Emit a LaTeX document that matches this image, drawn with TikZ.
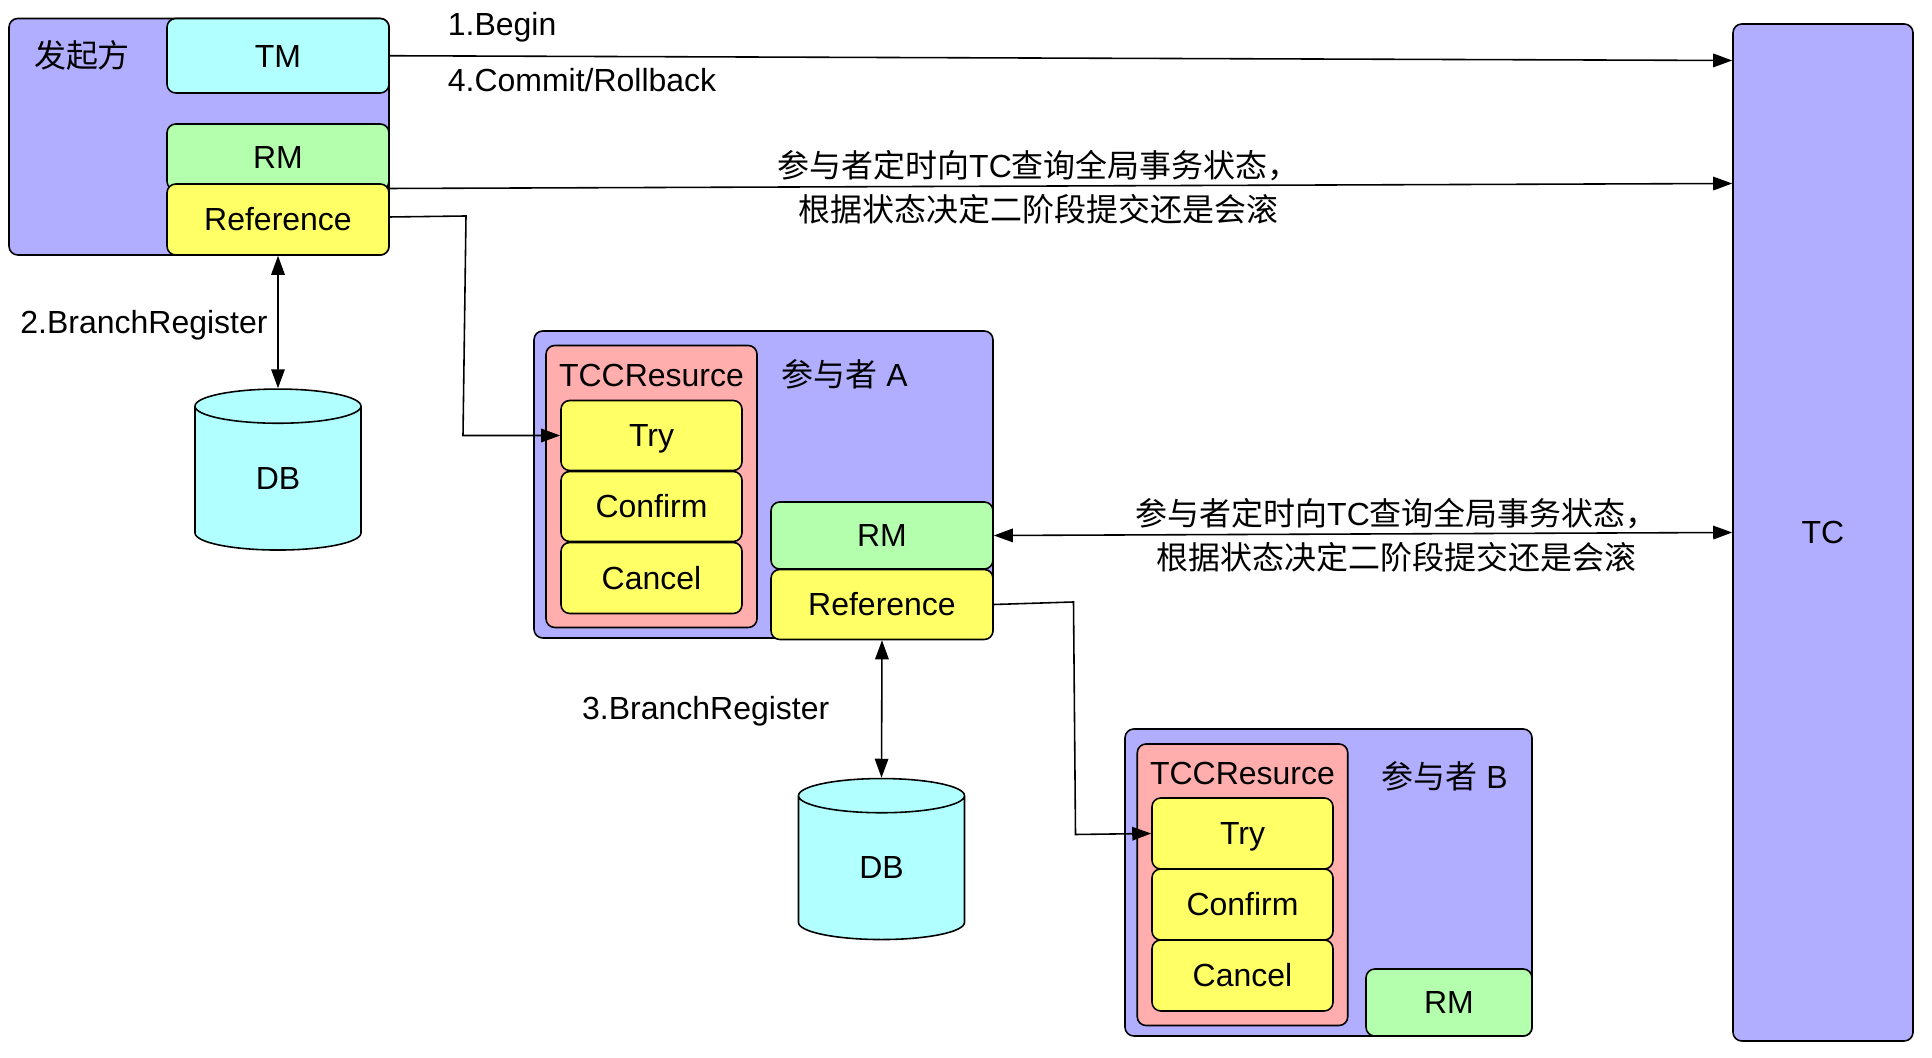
\documentclass[tikz,border=0pt]{standalone}
\usepackage{fontspec}
\setmainfont{Liberation Sans}
\newfontfamily\cjk{Noto Sans CJK SC}
\usetikzlibrary{arrows.meta,shapes.geometric}
\definecolor{lilac}{RGB}{177,173,255}
\definecolor{aqua}{RGB}{177,255,255}
\definecolor{mint}{RGB}{179,255,173}
\definecolor{lemon}{RGB}{255,255,102}
\definecolor{rose}{RGB}{255,173,173}
\tikzset{
  >={Triangle[length=3.8mm,width=2.7mm]},
  box/.style={draw=black,fill=#1,line width=0.9pt,rounded corners=5pt,inner sep=0pt,
    font=\fontsize{18.2}{22}\selectfont,text height=13pt,text depth=0pt},
  box/.default=lemon,
  db/.style={draw=black,fill=aqua,line width=0.9pt,cylinder,shape border rotate=90,
    shape aspect=0.77,minimum width=3.32cm,minimum height=3.22cm,inner sep=0pt,
    font=\fontsize{18.2}{22}\selectfont},
  tag/.style={font=\fontsize{18.2}{22}\selectfont,inner sep=0pt,text height=13pt,text depth=0pt},
  note/.style={font=\fontsize{18.2}{25}\selectfont,align=center,inner sep=0pt},
  flow/.style={line width=0.9pt,draw=black},
}
\begin{document}
\begin{tikzpicture}
    \useasboundingbox (0,0) rectangle (38.64,21.16);
    % initiator
    \node[box=lilac,minimum width=76mm,minimum height=47.3mm] (init) at (3.98,18.425) {};
    \node[tag] (inittag) at (1.64,20.04) {\cjk 发起方};
    \node[box=aqua,minimum width=44.4mm,minimum height=14.9mm] (tm) at (5.56,20.045) {TM};
    \node[box=mint,minimum width=44.4mm,minimum height=13.2mm] (rm) at (5.56,18.02) {RM};
    \node[box,minimum width=44.4mm,minimum height=14.2mm] (ref) at (5.56,16.77) {Reference};
    \node[db] (dba) at (5.56,11.59) {DB};
    % participant A
    \node[box=lilac,minimum width=91.8mm,minimum height=61.4mm] (pa) at (15.27,11.47) {};
    \node[box=rose,minimum width=42.2mm,minimum height=56.4mm] (tcca) at (13.03,11.43) {};
    \node[tag] (tccatag) at (13.03,13.66) {TCCResurce};
    \node[tag] (patag) at (16.89,13.66) {{\cjk 参与者} A};
    \node[box,minimum width=36.2mm,minimum height=14mm] (trya) at (13.03,12.45) {Try};
    \node[box,minimum width=36.2mm,minimum height=14mm] (confirma) at (13.03,11.03) {Confirm};
    \node[box,minimum width=36.2mm,minimum height=14.2mm] (cancela) at (13.03,9.6) {Cancel};
    \node[box=mint,minimum width=44.4mm,minimum height=13.4mm] (rma) at (17.64,10.45) {RM};
    \node[box,minimum width=44.4mm,minimum height=14mm] (refa) at (17.64,9.07) {Reference};
    \node[db] (dbb) at (17.63,3.8) {DB};
    % participant B
    \node[box=lilac,minimum width=81.4mm,minimum height=61.4mm] (pb) at (26.57,3.51) {};
    \node[box=rose,minimum width=42.1mm,minimum height=56.3mm] (tccb) at (24.85,3.465) {};
    \node[tag] (tccbtag) at (24.85,5.69) {TCCResurce};
    \node[tag] (pbtag) at (28.89,5.62) {{\cjk 参与者} B};
    \node[box,minimum width=36.2mm,minimum height=14.2mm] (tryb) at (24.85,4.49) {Try};
    \node[box,minimum width=36.2mm,minimum height=14.2mm] (confirmb) at (24.85,3.07) {Confirm};
    \node[box,minimum width=36.2mm,minimum height=14.2mm] (cancelb) at (24.85,1.65) {Cancel};
    \node[box=mint,minimum width=33.2mm,minimum height=13.4mm] (rmb) at (28.98,1.11) {RM};
    % coordinator
    \node[box=lilac,minimum width=36mm,minimum height=203.4mm] (tc) at (36.46,10.51) {TC};
    % labels
    \node[tag,anchor=west] (begin) at (8.95,20.68) {1.Begin};
    \node[tag,anchor=west] (commit) at (8.95,19.55) {4.Commit/Rollback};
    \node[note] (querya) at (20.77,17.42) {{\cjk 参与者定时向}TC{\cjk 查询全局事务状态，}\\{\cjk 根据状态决定二阶段提交还是会滚}};
    \node[note] (queryb) at (27.93,10.46) {{\cjk 参与者定时向}TC{\cjk 查询全局事务状态，}\\{\cjk 根据状态决定二阶段提交还是会滚}};
    \node[tag] (brancha) at (2.88,14.72) {2.BranchRegister};
    \node[tag] (branchb) at (14.115,7.0) {3.BranchRegister};
    % connectors
    \coordinate (benda) at (9.32,16.84);
    \coordinate (bendb) at (9.26,12.45);
    \coordinate (bendc) at (21.47,9.12);
    \coordinate (bendd) at (21.51,4.47);
    \draw[flow,->] (tm.east) -- ([yshift=9.44cm]tc.west);
    \draw[flow,->] ([yshift=0.62cm]ref.east) -- ([yshift=6.98cm]tc.west);
    \draw[flow,->] ([yshift=0.05cm]ref.east) -- (benda) -- (bendb) -- (trya.west);
    \draw[flow,<->] (ref.south) -- (dba.north);
    \draw[flow,<->] (rma.east) -- (tc.west);
    \draw[flow,->] (refa.east) -- (bendc) -- (bendd) -- (tryb.west);
    \draw[flow,<->] (refa.south) -- (dbb.north);
\end{tikzpicture}
\end{document}
